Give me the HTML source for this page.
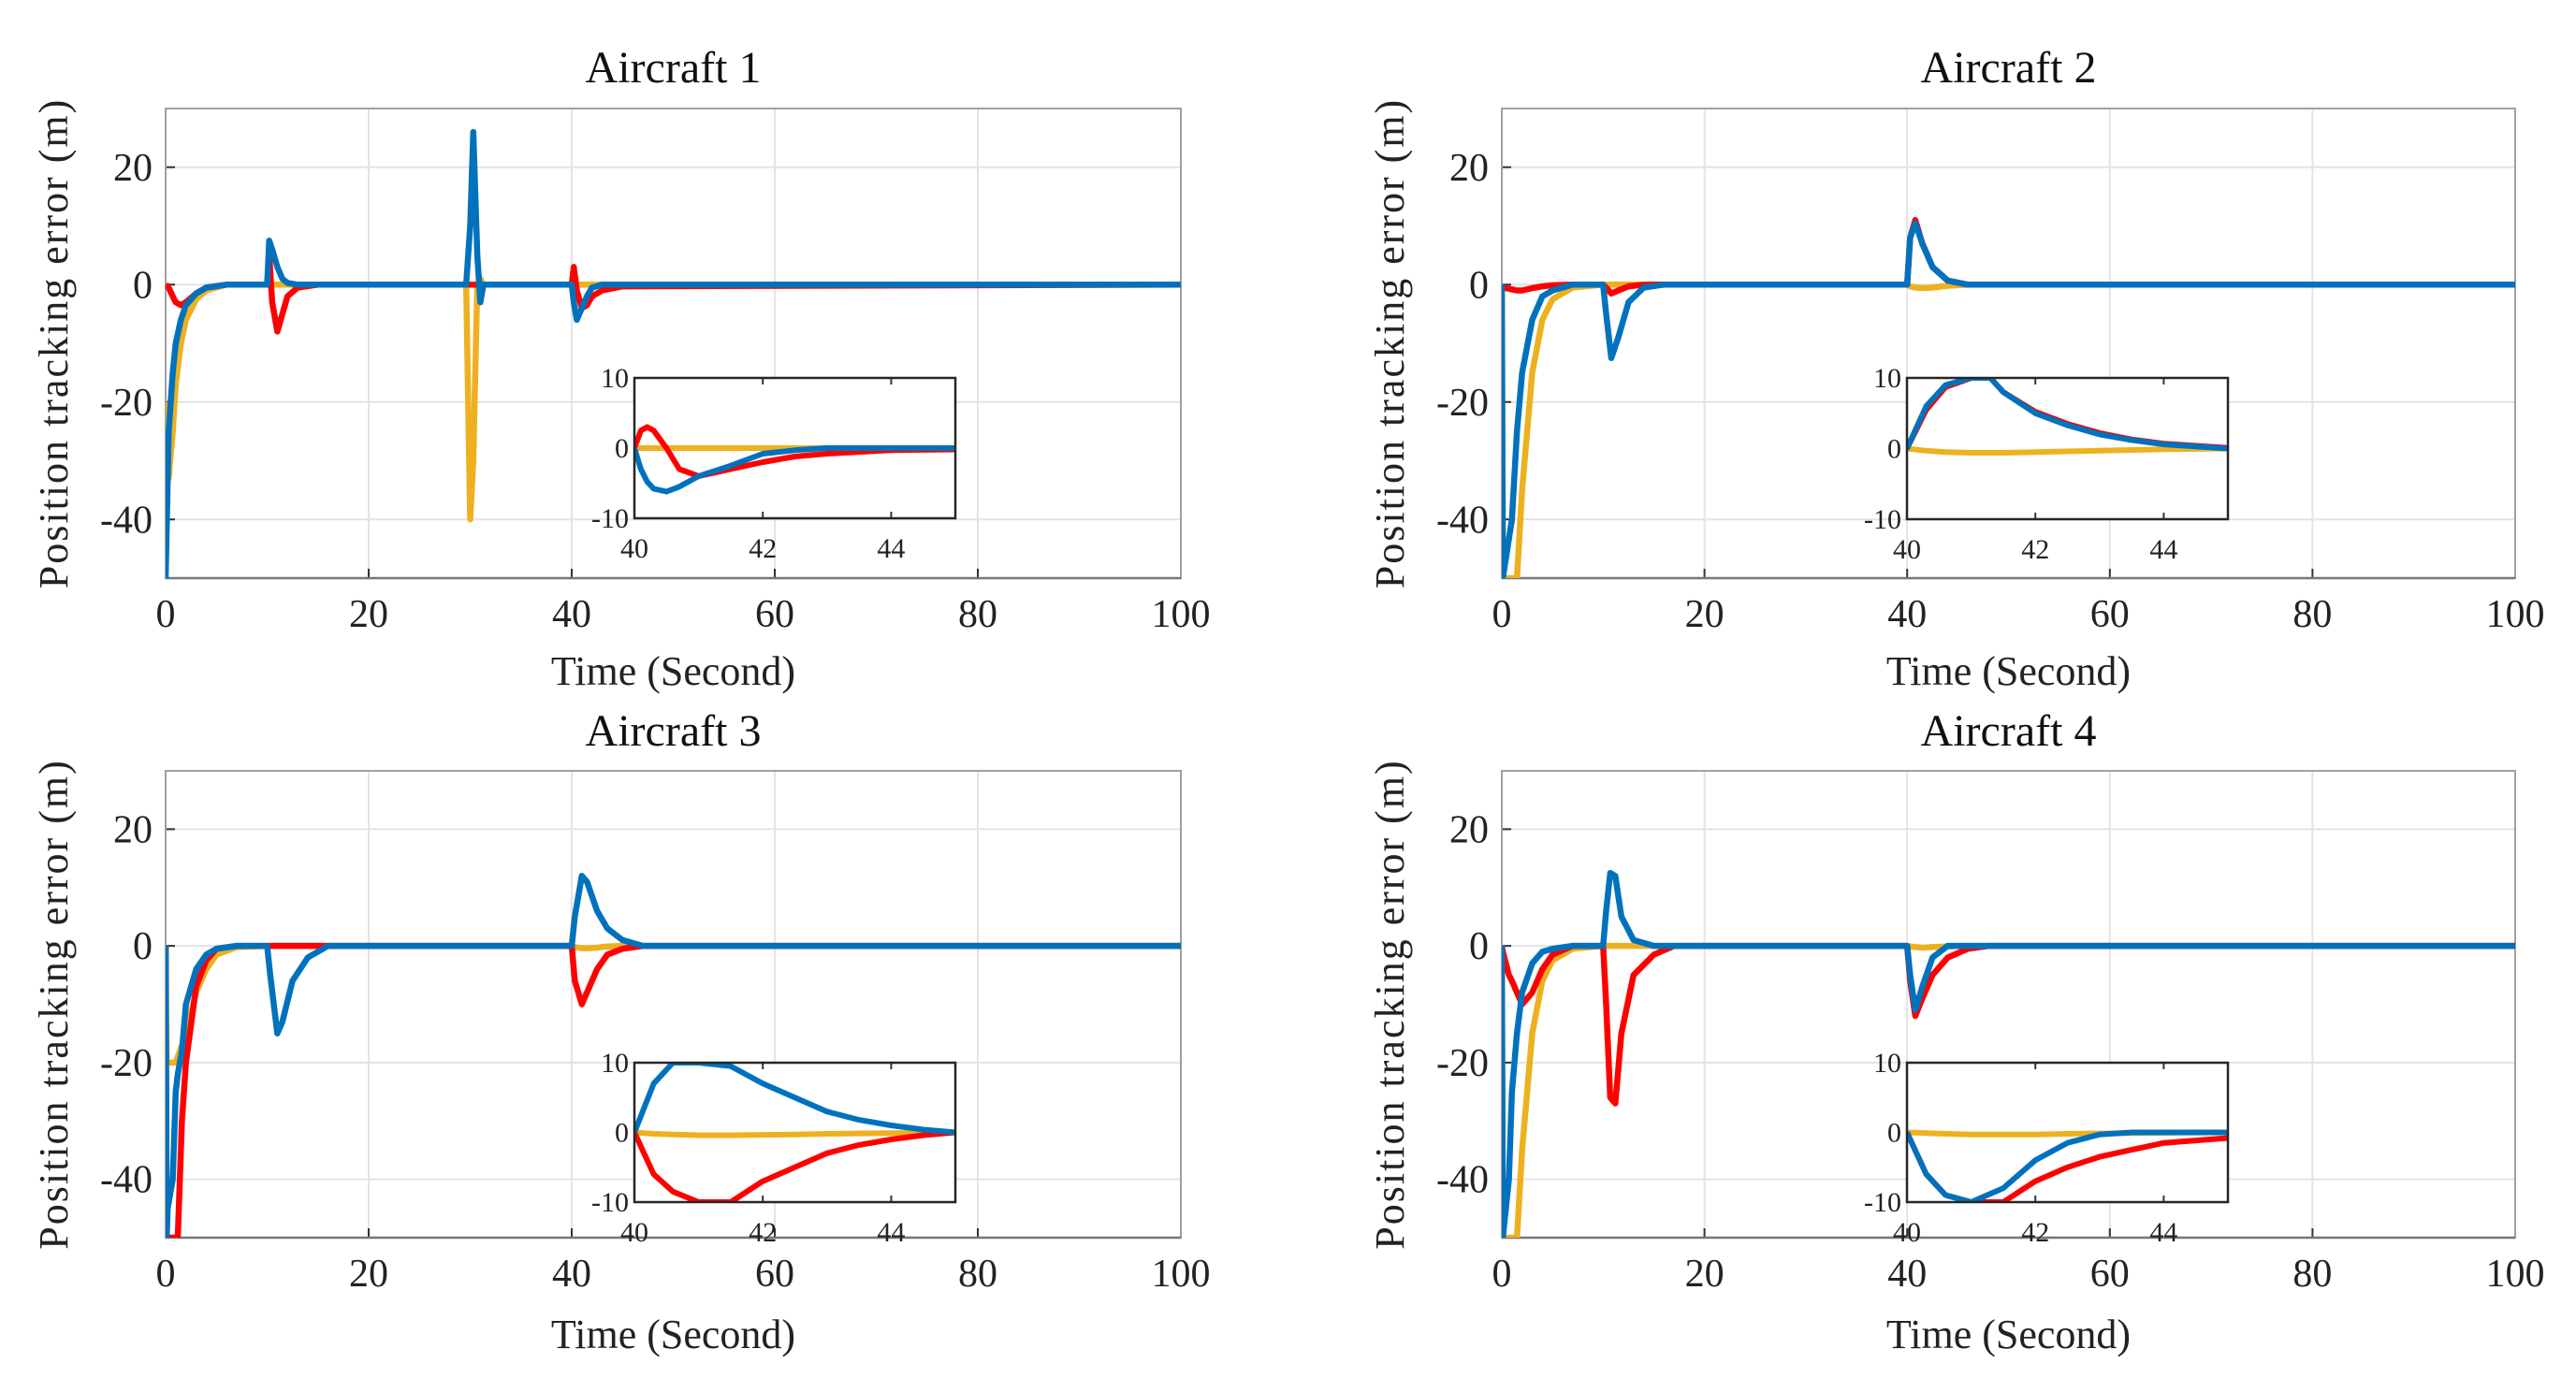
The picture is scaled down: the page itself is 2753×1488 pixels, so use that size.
<!DOCTYPE html>
<html><head><meta charset="utf-8"><style>
html,body{margin:0;padding:0;background:#fff;}
svg{display:block;font-family:"Liberation Serif",serif;}
</style></head><body>
<svg id="fig" width="2753" height="1488" viewBox="0 0 2753 1488"></svg>
<script>
// ---- data ----
const p1T=[0,0.3,0.7,1,1.5,2,3,4,6,10,10.2,10.5,11,11.5,12,13,15,29.6,30,30.3,30.7,31,31.3,31.6,40,40.2,40.5,41,41.5,42,43,45,100];
const p1Y=[-20,-33,-25,-17,-10,-6,-2.5,-1,0,0,0,0,0,0,0,0,0,0,-40,-30,0,1,0,0,0,0,0,0,0,0,0,0,0];
const p1R=[0,-0.5,-2,-3,-3.5,-3,-1.5,-0.5,0,0,5,-3,-8,-5,-2,-0.5,0,0,0,0,0,0,0,0,0,3,-1,-4,-3.5,-2,-1,-0.3,0];
const p1B=[-50,-25,-15,-10,-6,-3.5,-1.5,-0.5,0,0,7.5,6,3,1,0.3,0,0,0,10,26,5,-3,0,0,0,-3,-6,-4,-2,-0.5,0,0,0];
const i1T=[40,40.1,40.2,40.3,40.5,40.7,41,41.5,42,42.5,43,44,45];
const i1R=[0,2.5,3,2.5,0,-3,-4,-3,-2,-1.2,-0.8,-0.3,-0.2];
const i1B=[0,-3,-4.8,-5.8,-6.2,-5.5,-4,-2.5,-0.8,-0.3,0,0,0];
const i1Y=[0,0,0,0,0,0,0,0,0,0,0,0,0];

const p2T=[0,0.1,1,1.5,2,3,4,5,7,10,10.3,10.8,11.5,12.5,14,16,40,40.3,40.8,41.5,42.5,44,46,100];
const p2Y=[0,-50,-50,-50,-35,-15,-6,-2.5,-0.5,0,0,0,0,0,0,0,0,-0.3,-0.5,-0.6,-0.5,-0.2,0,0];
const p2R=[0,-0.5,-0.8,-1,-1,-0.6,-0.3,-0.1,0,0,-0.5,-1.5,-1,-0.3,0,0,0,8,11,7,3,0.7,0,0];
const p2B=[0,-50,-40,-25,-15,-6,-2,-1,0,0,-5,-12.5,-9,-3,-0.5,0,0,8,10.5,7,3,0.7,0,0];
const i2T=[40,40.3,40.6,41,41.3,41.5,42,42.5,43,43.5,44,45];
const i2B=[0,6,9,10,10,8,5,3.3,2,1.2,0.6,0];
const i2R=[0,5.5,8.7,10,10,8,5.2,3.5,2.2,1.3,0.7,0.1];
const i2Y=[0,-0.3,-0.5,-0.6,-0.6,-0.6,-0.5,-0.4,-0.3,-0.2,-0.1,0];

const p3T=[0,0.1,0.2,0.7,1,1.2,1.6,2,3,4,5,7,10,10.3,11,11.5,12.5,14,16,40,40.3,41,41.5,42.5,43.5,45,47,100];
const p3Y=[0,-20,-20,-20,-20,-19,-17,-15,-8,-4,-1.5,-0.2,0,0,0,0,0,0,0,0,-0.2,-0.4,-0.4,-0.3,-0.1,0,0,0];
const p3R=[0,-50,-50,-50,-50,-50,-30,-20,-7,-2.5,-0.5,0,0,0,0,0,0,0,0,0,-6,-10,-8,-4,-1.5,-0.5,0,0];
const p3B=[0,-50,-45,-40,-25,-22,-18,-10,-4,-1.5,-0.5,0,0,-5,-15,-13,-6,-2,0,0,5,12,11,6,3,1,0,0];
const i3T=[40,40.3,40.6,41,41.5,42,42.5,43,43.5,44,44.5,45];
const i3B=[0,7,10,10,9.5,7,5,3,1.8,1,0.4,0];
const i3R=[0,-6,-8.5,-10,-10,-7,-5,-3,-1.8,-1,-0.4,0];
const i3Y=[0,-0.2,-0.3,-0.4,-0.4,-0.35,-0.3,-0.2,-0.15,-0.1,-0.05,0];

const p4T=[0,0.1,0.7,1,1.5,2,3,4,5,7,10,10.3,10.7,11.2,11.8,13,15,17,40,40.3,40.8,41.5,42.5,44,46,48,100];
const p4Y=[0,-50,-50,-50,-50,-35,-15,-6,-2.5,-0.5,0,0,0,0,0,0,0,0,0,-0.1,-0.2,-0.3,-0.2,-0.1,0,0,0];
const p4R=[0,-1,-5,-6,-8,-10,-8,-4,-1.5,0,0,-10,-26,-27,-15,-5,-1.5,0,0,-6,-12,-9,-5,-2,-0.5,0,0];
const p4B=[0,-50,-40,-25,-15,-8,-3,-1,-0.5,0,0,6,12.5,12,5,1,0,0,0,-5,-11,-7,-2,0,0,0,0];
const i4T=[40,40.3,40.6,41,41.5,42,42.5,43,43.5,44,45];
const i4B=[0,-6,-9,-10,-8,-4,-1.5,-0.3,0,0,0];
const i4R=[0,-6,-9,-10,-10,-7,-5,-3.5,-2.5,-1.5,-0.8];
const i4Y=[0,-0.1,-0.2,-0.3,-0.3,-0.3,-0.2,-0.15,-0.1,-0.05,0];

const titles=["Aircraft 1","Aircraft 2","Aircraft 3","Aircraft 4"];
const xTicks=[0,20,40,60,80,100];
const yTicks=[20,0,-20,-40];
const insetXTicks=[40,42,44];
const insetYTicks=[10,0,-10];

// ---- drawing ----
const NS="http://www.w3.org/2000/svg";
const svg=document.getElementById('fig');
const COL={y:"#EDB120",r:"#FF0000",b:"#0072BD"};
function mk(tag,attrs,parent){const e=document.createElementNS(NS,tag);for(const k in attrs)e.setAttribute(k,attrs[k]);(parent||svg).appendChild(e);return e;}
let clipId=0;
function axes(box,xmin,xmax,ymin,ymax){
  return {x:v=>box.l+(v-xmin)/(xmax-xmin)*(box.r-box.l), y:v=>box.b-(v-ymin)/(ymax-ymin)*(box.b-box.t)};
}
function clip(box){const id='c'+(clipId++);const cp=mk('clipPath',{id:id});mk('rect',{x:box.l,y:box.t,width:box.r-box.l,height:box.b-box.t},cp);return id;}
function series(g,ax,T,V,col,w,name){
  let d='';T.forEach((t,i)=>{d+=(i?'L':'M')+ax.x(t).toFixed(1)+','+ax.y(V[i]).toFixed(1);});
  const p=mk('path',{d:d,fill:'none',stroke:col,'stroke-width':w,'stroke-linejoin':'round'},g);
  
  
}
const panels=[
 {main:{l:177,r:1262,t:116,b:618},inset:{l:678,r:1021,t:404,b:554},T:p1T,Y:p1Y,R:p1R,B:p1B,iT:i1T,iY:i1Y,iR:i1R,iB:i1B,ty:74,xl:732},
 {main:{l:1605,r:2688,t:116,b:618},inset:{l:2038,r:2381,t:404,b:555},T:p2T,Y:p2Y,R:p2R,B:p2B,iT:i2T,iY:i2Y,iR:i2R,iB:i2B,ty:74,xl:732},
 {main:{l:177,r:1262,t:824,b:1323},inset:{l:678,r:1021,t:1136,b:1285},T:p3T,Y:p3Y,R:p3R,B:p3B,iT:i3T,iY:i3Y,iR:i3R,iB:i3B,ty:783,xl:1441},
 {main:{l:1605,r:2688,t:824,b:1323},inset:{l:2038,r:2381,t:1136,b:1285},T:p4T,Y:p4Y,R:p4R,B:p4B,iT:i4T,iY:i4Y,iR:i4R,iB:i4B,ty:783,xl:1441}
];
panels.forEach((P,k)=>{
  const g=mk('g',{});
  
  
  const m=P.main, ax=axes(m,0,100,-50,30);
  mk('rect',{x:m.l,y:m.t,width:m.r-m.l,height:m.b-m.t,fill:'#fff',stroke:'none'},g);
  xTicks.forEach(v=>{const x=ax.x(v);mk('line',{x1:x,x2:x,y1:m.t,y2:m.b,stroke:'#e3e3e3','stroke-width':2},g);
    mk('line',{x1:x,x2:x,y1:m.b,y2:m.b-10,stroke:'#333','stroke-width':2},g);
    const t=mk('text',{x:x,y:m.b+52,'font-size':42,'text-anchor':'middle',fill:'#222'},g);t.textContent=v;
    });
  yTicks.forEach(v=>{const y=ax.y(v);mk('line',{x1:m.l,x2:m.r,y1:y,y2:y,stroke:'#e3e3e3','stroke-width':2},g);
    mk('line',{x1:m.l,x2:m.l+10,y1:y,y2:y,stroke:'#333','stroke-width':2},g);
    const t=mk('text',{x:m.l-14,y:y+14,'font-size':42,'text-anchor':'end',fill:'#222'},g);t.textContent=v;
    });
  mk('rect',{x:m.l,y:m.t,width:m.r-m.l,height:m.b-m.t,fill:'none',stroke:'#a0a0a0','stroke-width':2},g);
  mk('line',{x1:m.l,x2:m.r,y1:m.b,y2:m.b,stroke:'#777','stroke-width':2.5},g);
  const cg=mk('g',{'clip-path':'url(#'+clip(m)+')'},g);
  series(cg,ax,P.T,P.Y,COL.y,6.5,'series-yellow');
  series(cg,ax,P.T,P.R,COL.r,6.5,'series-red');
  series(cg,ax,P.T,P.B,COL.b,6.5,'series-blue');
  const tt=mk('text',{x:(m.l+m.r)/2,y:P.ty+14,'font-size':48,'text-anchor':'middle',fill:'#111'},g);tt.textContent=titles[k];
  
  const xl=mk('text',{x:(m.l+m.r)/2,y:P.xl,'font-size':44,'text-anchor':'middle',fill:'#222'},g);xl.textContent='Time (Second)';
  
  const yx=(m.l<1000?58:1486), yc=(m.t+m.b)/2;
  const yl=mk('text',{x:yx,y:yc,'font-size':44,'text-anchor':'middle',fill:'#222','letter-spacing':'2',transform:'rotate(-90 '+yx+' '+yc+') translate(0 14)'},g);yl.textContent='Position tracking error (m)';
  
  // inset
  const n=P.inset, ai=axes(n,40,45,-10,10);
  const ig=mk('g',{},g);
  
  
  mk('rect',{x:n.l,y:n.t,width:n.r-n.l,height:n.b-n.t,fill:'#fff'},ig);
  insetXTicks.forEach(v=>{const x=ai.x(v);mk('line',{x1:x,x2:x,y1:n.b,y2:n.b-7,stroke:'#333','stroke-width':2},ig);mk('line',{x1:x,x2:x,y1:n.t,y2:n.t+7,stroke:'#333','stroke-width':2},ig);
    const t=mk('text',{x:x,y:n.b+42,'font-size':30,'text-anchor':'middle',fill:'#222'},ig);t.textContent=v;
    });
  insetYTicks.forEach(v=>{const y=ai.y(v);
    const t=mk('text',{x:n.l-6,y:y+10,'font-size':30,'text-anchor':'end',fill:'#222'},ig);t.textContent=v;
    });
  const icg=mk('g',{'clip-path':'url(#'+clip(n)+')'},ig);
  series(icg,ai,P.iT,P.iY,COL.y,6,'inset-series-yellow');
  series(icg,ai,P.iT,P.iR,COL.r,6,'inset-series-red');
  series(icg,ai,P.iT,P.iB,COL.b,6,'inset-series-blue');
  mk('rect',{x:n.l,y:n.t,width:n.r-n.l,height:n.b-n.t,fill:'none',stroke:'#262626','stroke-width':2.5},ig);
});
</script>
</body></html>
